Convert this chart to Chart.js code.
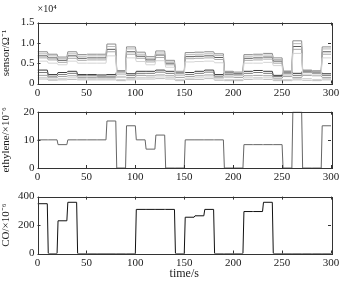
<!DOCTYPE html>
<html>
<head>
<meta charset="utf-8">
<script src="https://cdn.jsdelivr.net/npm/chart.js@4.4.1/dist/chart.umd.min.js"></script>
<style>
  body { margin: 0; background: #fff; }
  #wrap { position: relative; width: 348px; height: 287px; }
  canvas { position: absolute; left: 0; }
</style>
</head>
<body>
<div id="wrap">
  <canvas id="c1" width="348" height="100" style="top:0px"></canvas>
  <canvas id="c2" width="348" height="87" style="top:100px"></canvas>
  <canvas id="c3" width="348" height="100" style="top:187px"></canvas>
</div>
<script>
// segment start times (s), each segment lasts 10 s
var segStart = [0,10,20,30,40,50,60,70,80,90,100,110,120,130,140,150,160,170,180,190,200,210,220,230,240,250,260,270,280,290];
var xTicks = [0,50,100,150,200,250,300];

// gas concentrations per segment
var ethylene = [10,10,8.3,10,10,10,10,16.7,0,15,10,6.7,11.7,0,0,10,10,10,10,0,0,8.3,8.3,8.3,8.3,0,20,0,0,15];
var co = [350,0,230,360,0,0,0,0,0,0,310,310,310,310,0,255,265,310,0,0,0,295,295,360,0,0,0,0,0,0];

// sensor conductance per segment (x10^4)
var sensorU1 = [0.78,0.72,0.65,0.78,0.71,0.72,0.72,0.97,0.32,0.90,0.77,0.66,0.80,0.57,0.30,0.76,0.77,0.78,0.73,0.30,0.28,0.71,0.72,0.74,0.63,0.30,1.05,0.33,0.31,0.90];
var sensorU2 = [0.73,0.68,0.61,0.73,0.67,0.68,0.68,0.91,0.30,0.85,0.72,0.62,0.75,0.53,0.28,0.71,0.72,0.73,0.69,0.28,0.26,0.67,0.68,0.70,0.59,0.28,0.98,0.31,0.29,0.85];
var sensorU3 = [0.68,0.63,0.57,0.68,0.62,0.63,0.63,0.84,0.29,0.78,0.67,0.58,0.70,0.50,0.27,0.66,0.67,0.68,0.64,0.27,0.25,0.62,0.63,0.65,0.55,0.27,0.91,0.30,0.28,0.78];
var sensorU4 = [0.63,0.58,0.52,0.62,0.57,0.58,0.58,0.78,0.26,0.72,0.62,0.53,0.64,0.46,0.24,0.61,0.62,0.63,0.59,0.24,0.22,0.57,0.58,0.60,0.50,0.24,0.84,0.27,0.25,0.72];
var sensorU5 = [0.55,0.50,0.46,0.55,0.50,0.50,0.50,0.68,0.22,0.63,0.54,0.46,0.56,0.40,0.20,0.53,0.54,0.55,0.51,0.20,0.19,0.50,0.50,0.52,0.44,0.20,0.74,0.23,0.21,0.63];
var sensorL1 = [0.33,0.22,0.27,0.30,0.22,0.22,0.21,0.22,0.30,0.24,0.30,0.30,0.33,0.30,0.26,0.27,0.30,0.33,0.22,0.28,0.24,0.30,0.32,0.30,0.20,0.30,0.25,0.32,0.30,0.24];
var sensorL2 = [0.27,0.18,0.22,0.25,0.19,0.19,0.18,0.18,0.22,0.20,0.25,0.25,0.28,0.25,0.20,0.22,0.25,0.28,0.18,0.22,0.20,0.25,0.27,0.25,0.17,0.24,0.20,0.27,0.25,0.20];
var sensorL3 = [0.20,0.14,0.17,0.19,0.15,0.15,0.15,0.15,0.16,0.15,0.20,0.19,0.21,0.19,0.15,0.17,0.19,0.21,0.14,0.16,0.15,0.19,0.20,0.19,0.13,0.17,0.15,0.20,0.19,0.15];
var sensorL4 = [0.15,0.10,0.12,0.14,0.12,0.12,0.12,0.12,0.10,0.12,0.15,0.15,0.16,0.15,0.10,0.13,0.14,0.16,0.11,0.10,0.10,0.14,0.15,0.14,0.10,0.10,0.12,0.12,0.10,0.12];
var sensorL5 = [0.11,0.08,0.09,0.10,0.09,0.09,0.09,0.09,0.07,0.09,0.11,0.11,0.12,0.11,0.07,0.10,0.10,0.12,0.08,0.07,0.07,0.10,0.11,0.10,0.07,0.07,0.09,0.08,0.07,0.09];

var sensors = [sensorU5, sensorU4, sensorU2, sensorU1, sensorU3, sensorL4, sensorL3, sensorL5, sensorL2, sensorL1];
var sensorColors = ['#d4d4d4','#a8a8a8','#b8b8b8','#8c8c8c','#5a5a5a','#cfcfcf','#a0a0a0','#bdbdbd','#7a7a7a','#3c3c3c'];

// step trace: hold each level for its segment, short ramp at each change
function steps(levels) {
  var pts = [];
  for (var i = 0; i < levels.length; i++) {
    var s = segStart[i];
    pts.push({x: i === 0 ? s : s + 1, y: levels[i]});
    pts.push({x: s + 10, y: levels[i]});
  }
  return pts;
}

var serif = "'Liberation Serif', 'Times New Roman', serif";
var ink = '#222';

var matlabBox = {
  id: 'matlabBox',
  afterDraw: function(chart, args, opts) {
    var ctx = chart.ctx, a = chart.chartArea;
    var xs = chart.scales.x, ys = chart.scales.y;
    ctx.save();
    ctx.strokeStyle = '#333';
    ctx.lineWidth = 1;
    ctx.beginPath();
    xs.ticks.forEach(function(t) {
      var px = Math.round(xs.getPixelForValue(t.value)) + 0.5;
      ctx.moveTo(px, a.bottom); ctx.lineTo(px, a.bottom - 3);
      ctx.moveTo(px, a.top); ctx.lineTo(px, a.top + 3);
    });
    ys.ticks.forEach(function(t) {
      var py = Math.round(ys.getPixelForValue(t.value)) + 0.5;
      ctx.moveTo(a.left, py); ctx.lineTo(a.left + 3, py);
      ctx.moveTo(a.right, py); ctx.lineTo(a.right - 3, py);
    });
    ctx.stroke();
    ctx.strokeRect(Math.round(a.left) + 0.5, Math.round(a.top) + 0.5,
                   Math.round(a.right - a.left), Math.round(a.bottom - a.top));
    if (opts.exponent) {
      ctx.fillStyle = ink;
      ctx.font = '10px ' + serif;
      ctx.textBaseline = 'middle';
      ctx.fillText(opts.exponent, a.left, 9);
    }
    ctx.restore();
  }
};

function makeChart(id, datasets, o) {
  return new Chart(document.getElementById(id), {
    type: 'line',
    data: { datasets: datasets },
    options: {
      animation: false,
      responsive: false,
      devicePixelRatio: 1,
      parsing: false,
      layout: { padding: { top: o.padTop, right: 17, left: 0, bottom: 0 } },
      elements: { point: { radius: 0 }, line: { borderWidth: 1, tension: 0 } },
      plugins: {
        legend: { display: false },
        tooltip: { enabled: false },
        matlabBox: { exponent: o.exponent || null }
      },
      scales: {
        x: {
          type: 'linear', min: 0, max: 300,
          afterBuildTicks: function(s) { s.ticks = xTicks.map(function(v) { return {value: v}; }); },
          afterFit: function(s) { s.height = o.xHeight; },
          grid: { display: false, drawTicks: false },
          border: { display: false },
          ticks: { padding: 3, color: ink, font: { family: serif, size: 11 }, maxRotation: 0 },
          title: o.xTitle ? { display: true, text: o.xTitle, color: ink,
                              font: { family: serif, size: 12 }, padding: { top: 0, bottom: 5.8 } } : { display: false }
        },
        y: {
          type: 'linear', min: 0, max: o.yMax,
          afterBuildTicks: function(s) { s.ticks = o.yTicks.map(function(v) { return {value: v}; }); },
          afterFit: function(s) { s.width = 37.5; },
          grid: { display: false, drawTicks: false },
          border: { display: false },
          ticks: { padding: 3, color: ink, font: { family: serif, size: 11 }, callback: o.yFmt },
          title: { display: true, text: o.yTitle, color: ink,
                   font: { family: serif, size: 11 }, padding: { top: 0, bottom: 0 } }
        }
      }
    },
    plugins: [matlabBox]
  });
}

makeChart('c1', sensors.map(function(arr, i) {
  return { data: steps(arr), borderColor: sensorColors[i] };
}), {
  padTop: 22.5, xHeight: 16.5, yMax: 1.5, yTicks: [0, 0.5, 1.0, 1.5],
  yFmt: function(v) { return v === 0 ? '0' : v.toFixed(1); },
  yTitle: 'sensor/\u03A9\u207B\u00B9', exponent: '\u00D710\u2074'
});

makeChart('c2', [{ data: steps(ethylene), borderColor: '#666' }], {
  padTop: 11.7, xHeight: 19, yMax: 20, yTicks: [0, 10, 20],
  yFmt: function(v) { return String(v); },
  yTitle: 'ethylene/\u00D710\u207B\u2076'
});

makeChart('c3', [{ data: steps(co), borderColor: '#111' }], {
  padTop: 5.7, xHeight: 33.5, yMax: 400, yTicks: [0, 200, 400],
  yFmt: function(v) { return String(v); },
  yTitle: 'CO/\u00D710\u207B\u2076', xTitle: 'time/s'
});
</script>
</body>
</html>
